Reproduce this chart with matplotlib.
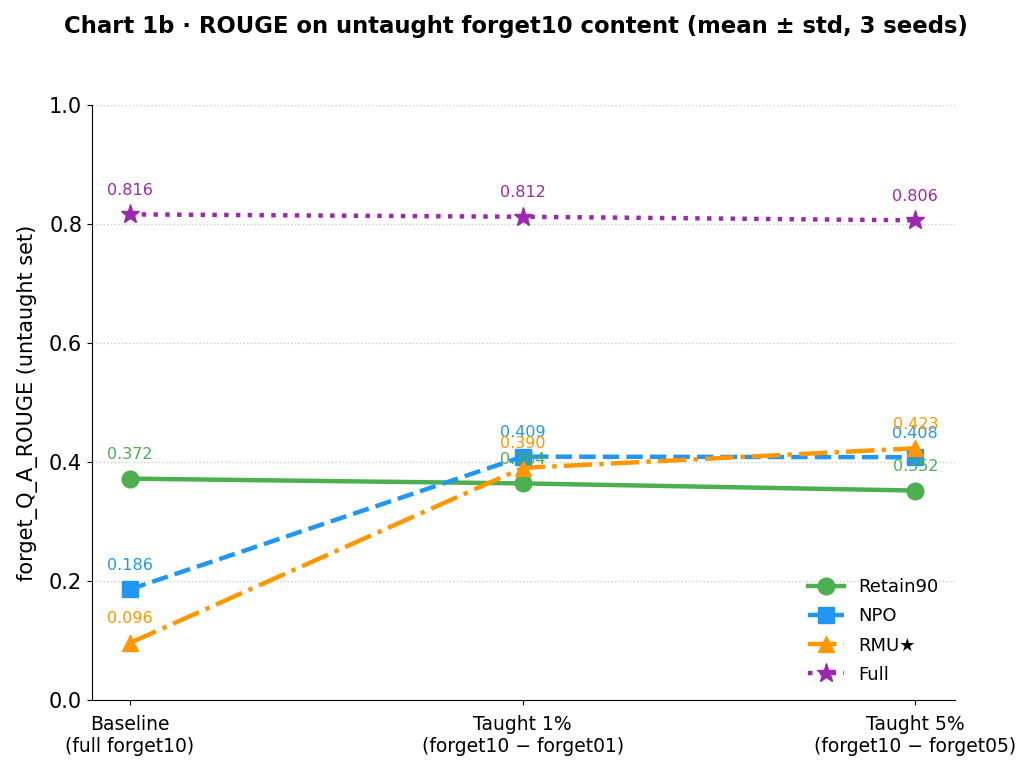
"""Chart 1b: ROUGE on untaught forget10 content."""

import matplotlib
matplotlib.use("Agg")
import matplotlib.pyplot as plt

conditions = ["Baseline\n(full forget10)", "Taught 1%\n(forget10 \u2212 forget01)",
              "Taught 5%\n(forget10 \u2212 forget05)"]

retain90 = [0.372, 0.364, 0.352]
npo = [0.186, 0.409, 0.408]
rmu = [0.096, 0.390, 0.423]
full = [0.816, 0.812, 0.806]

series = [
    ("Retain90", retain90, "#4CAF50", "-", "o", 12),
    ("NPO", npo, "#2196F3", "--", "s", 11),
    ("RMU\u2605", rmu, "#FF9800", "-.", "^", 12),
    ("Full", full, "#9C27B0", ":", "*", 14),
]

fig, ax = plt.subplots(figsize=(10.32, 7.71), dpi=100)
fig.subplots_adjust(left=0.089, right=0.925, top=0.864, bottom=0.092)

x = list(range(len(conditions)))
for name, vals, color, ls, marker, ms in series:
    ax.plot(x, vals, linestyle=ls, marker=marker, color=color, linewidth=3.2,
            markersize=ms, label=name)
    for xi, v in zip(x, vals):
        ax.annotate(f"{v:.3f}", (xi, v), xytext=(0, 12), textcoords="offset points",
                    ha="center", va="bottom", fontsize=11.5, color=color)

ax.set_xticks(x)
ax.set_xticklabels(conditions, fontsize=13.5)
ax.tick_params(axis="x", pad=7)
ax.set_xlim(-0.097, 2.1)
ax.set_ylim(0, 1.0)
ax.tick_params(axis="y", labelsize=15)
ax.set_ylabel("forget_Q_A_ROUGE (untaught set)", fontsize=15, labelpad=8)
ax.grid(axis="y", linestyle=":", color="#cccccc", linewidth=1)
ax.set_axisbelow(True)
ax.spines["top"].set_visible(False)
ax.spines["right"].set_visible(False)
ax.legend(loc="lower right", frameon=False, fontsize=13, labelspacing=0.62,
          borderaxespad=0.5)
fig.suptitle("Chart 1b \u00b7 ROUGE on untaught forget10 content (mean \u00b1 std, 3 seeds)",
             fontsize=16.4, fontweight="bold", y=0.98)

fig.savefig("out.png", dpi=100)
